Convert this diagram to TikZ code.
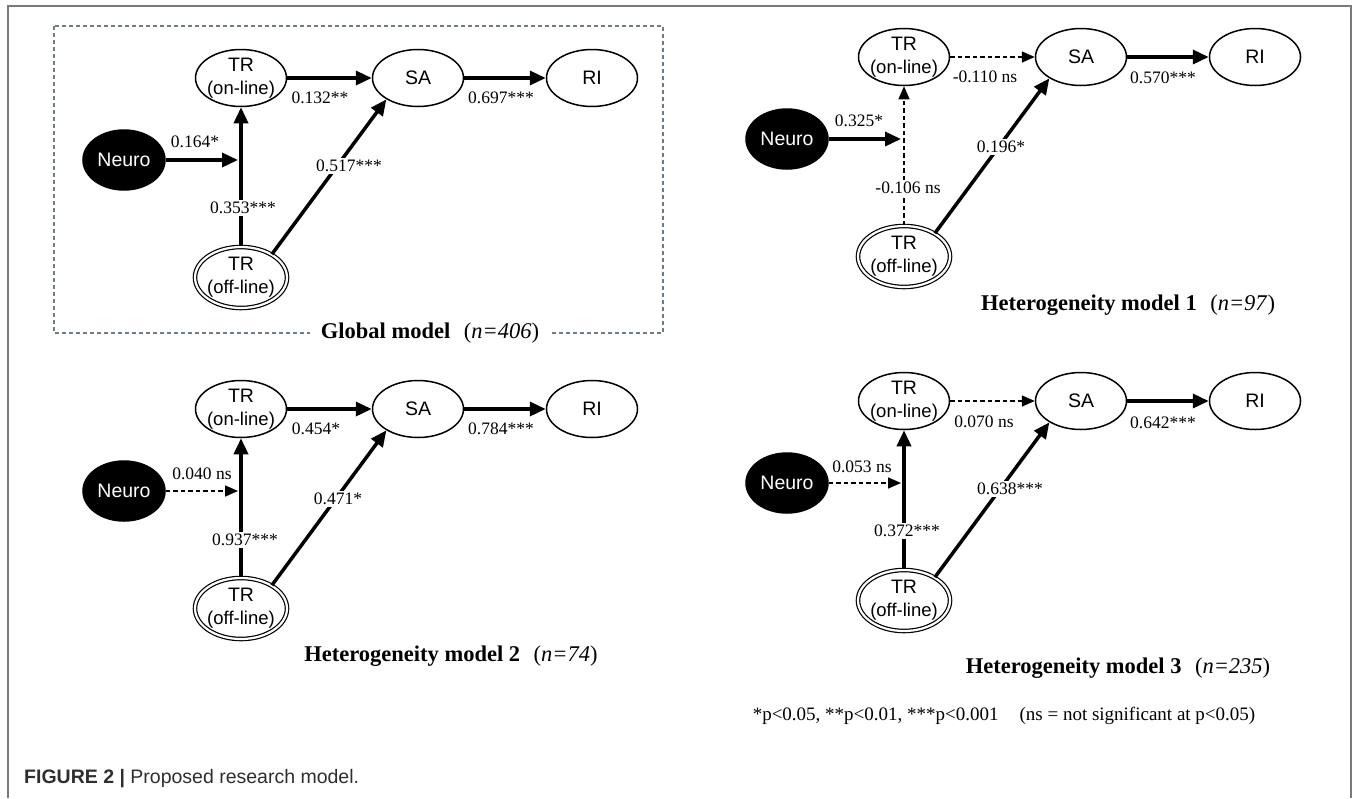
\documentclass[tikz,border=0pt]{standalone}
\usepackage{fontspec}
\setmainfont{Liberation Serif}
\setsansfont{Liberation Sans}
\usetikzlibrary{shapes.geometric,arrows.meta,calc}
\definecolor{framegray}{HTML}{7A7A7A}
\definecolor{boxgray}{HTML}{6E7B8B}
\definecolor{capgray}{HTML}{2E2E2E}
\tikzset{
  ell/.style={ellipse, draw, line width=1.5pt, inner sep=0pt, fill=white,
    minimum width=91pt, minimum height=57pt,
    font=\sffamily\fontsize{19.5}{23}\selectfont},
  lbl/.style={font=\sffamily\fontsize{19.5}{23}\selectfont, align=center, inner sep=0pt},
  onl/.style={ell, label={[lbl]center:{TR\\{\fontsize{18.5}{23}\selectfont(on-line)}}}},
  offl/.style={ellipse, draw, line width=1.2pt, double, double distance=2.2pt,
    inner sep=0pt, minimum width=92pt, minimum height=61pt,
    label={[lbl]center:{TR\\{\fontsize{18.5}{22}\selectfont(off-line)}}}},
  neuro/.style={ell, fill=black, text=white, minimum width=82pt, minimum height=60pt},
  solidar/.style={line width=3.5pt, -{Triangle[length=16pt,width=14pt]}},
  dashar/.style={line width=1.6pt, dash pattern=on 4.5pt off 3pt, -{Triangle[length=13pt,width=11pt]}},
  elab/.style={font=\fontsize{17.5}{20}\selectfont, inner sep=1pt},
  onlab/.style={elab, fill=white, inner sep=2pt},
  ttl/.style={font=\fontsize{22.5}{26}\selectfont, inner sep=1pt},
}
\begin{document}
\begin{tikzpicture}[x=1pt, y=-1pt]
\useasboundingbox (0,0) rectangle (1356,798);
% outer frame
\draw[framegray, line width=1.5pt] (8,798) -- (8,6) -- (1351,6) -- (1351,798);
% global model box
\draw[boxgray, line width=1.1pt, dash pattern=on 4pt off 3pt] (54,26) rectangle (663,333);

% ===== Global model =====
\begin{scope}[shift={(0,0)}]
\node[onl] (on1) at (241,78) {};
\node[ell] (sa1) at (418,78) {SA};
\node[ell] (ri1) at (592,78) {RI};
\node[neuro] (ne1) at (124,160) {Neuro};
\node[offl] (of1) at (241,277.5) {};
\coordinate (j1) at ($(ne1.center -| on1.center)+(-3pt,0)$);
\draw[solidar] (on1) -- (sa1);
\draw[solidar] (sa1) -- (ri1);
\draw[solidar] (ne1) -- (j1);
\draw[solidar] (of1) -- (on1);
\draw[solidar] (of1.37) -- (sa1.214);
\node[elab] (a1) at (320,97.5) {0.132**};
\node[elab] (b1) at (501,97.5) {0.697***};
\node[elab] (c1) at (195,142) {0.164*};
\node[onlab] (d1) at (243,208) {0.353***};
\node[onlab] (e1) at (349,166) {0.517***};
\end{scope}
\node[ttl, fill=white, inner xsep=11pt] (t1) at (430,333) {\textbf{Global model}\hspace{0.6em}(\textit{n=406})};

% ===== Heterogeneity model 1 =====
\begin{scope}[shift={(663,-21)}]
\node[onl] (on2) at (241,78) {};
\node[ell] (sa2) at (418,78) {SA};
\node[ell] (ri2) at (592,78) {RI};
\node[neuro] (ne2) at (124,160) {Neuro};
\node[offl] (of2) at (241,277.5) {};
\coordinate (j2) at ($(ne2.center -| on2.center)+(-3pt,0)$);
\draw[dashar] (on2) -- (sa2);
\draw[solidar] (sa2) -- (ri2);
\draw[solidar] (ne2) -- (j2);
\draw[dashar] (of2) -- (on2);
\draw[solidar] (of2.37) -- (sa2.214);
\node[elab] (a2) at (322,98) {-0.110 ns};
\node[elab] (b2) at (500,99) {0.570***};
\node[elab] (c2) at (196,142) {0.325*};
\node[onlab] (d2) at (245,209) {-0.106 ns};
\node[onlab] (e2) at (338,168) {0.196*};
\end{scope}
\node[ttl] (t2) at (1128,305) {\textbf{Heterogeneity model 1}\hspace{0.6em}(\textit{n=97})};

% ===== Heterogeneity model 2 =====
\begin{scope}[shift={(0,331)}]
\node[onl] (on3) at (241,78) {};
\node[ell] (sa3) at (418,78) {SA};
\node[ell] (ri3) at (592,78) {RI};
\node[neuro] (ne3) at (124,160) {Neuro};
\node[offl] (of3) at (241,277.5) {};
\coordinate (j3) at ($(ne3.center -| on3.center)+(-3pt,0)$);
\draw[solidar] (on3) -- (sa3);
\draw[solidar] (sa3) -- (ri3);
\draw[dashar] (ne3) -- (j3);
\draw[solidar] (of3) -- (on3);
\draw[solidar] (of3.37) -- (sa3.214);
\node[elab] (a3) at (316,98) {0.454*};
\node[elab] (b3) at (501,98) {0.784***};
\node[elab] (c3) at (202,143) {0.040 ns};
\node[onlab] (d3) at (245,209) {0.937***};
\node[onlab] (e3) at (338,168) {0.471*};
\end{scope}
\node[ttl] (t3) at (451,656) {\textbf{Heterogeneity model 2}\hspace{0.6em}(\textit{n=74})};

% ===== Heterogeneity model 3 =====
\begin{scope}[shift={(663,323)}]
\node[onl] (on4) at (241,78) {};
\node[ell] (sa4) at (418,78) {SA};
\node[ell] (ri4) at (592,78) {RI};
\node[neuro] (ne4) at (124,160) {Neuro};
\node[offl] (of4) at (241,277.5) {};
\coordinate (j4) at ($(ne4.center -| on4.center)+(-3pt,0)$);
\draw[dashar] (on4) -- (sa4);
\draw[solidar] (sa4) -- (ri4);
\draw[dashar] (ne4) -- (j4);
\draw[solidar] (of4) -- (on4);
\draw[solidar] (of4.37) -- (sa4.214);
\node[elab] (a4) at (321,98.5) {0.070 ns};
\node[elab] (b4) at (500,100) {0.642***};
\node[elab] (c4) at (199,144) {0.053 ns};
\node[onlab] (d4) at (244,208) {0.372***};
\node[onlab] (e4) at (347,166) {0.638***};
\end{scope}
\node[ttl] (t4) at (1118,668) {\textbf{Heterogeneity model 3}\hspace{0.6em}(\textit{n=235})};

% footnote and caption
\node[font=\fontsize{19}{22}\selectfont, inner sep=1pt] (fn) at (1004,716) {*p<0.05, **p<0.01, ***p<0.001\hspace{1.1em}(ns = not significant at p<0.05)};
\node[anchor=west, inner sep=0pt, text=capgray, font=\sffamily\fontsize{19.5}{22}\selectfont] (cap) at (24,779) {\textbf{FIGURE 2 |} Proposed research model.};
\end{tikzpicture}
\end{document}
